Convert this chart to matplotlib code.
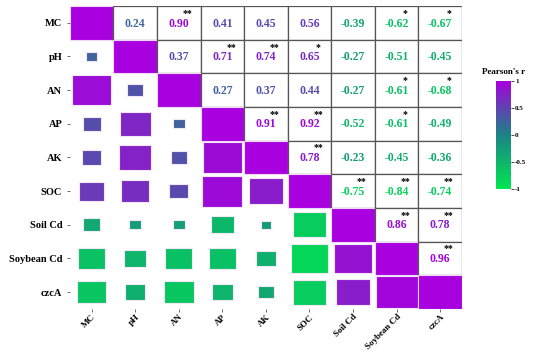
import numpy as np
import matplotlib.pyplot as plt
from matplotlib.colors import LinearSegmentedColormap, Normalize
from matplotlib.patches import Rectangle
from matplotlib.colorbar import ColorbarBase
from matplotlib.ticker import FuncFormatter

labels = ['MC', 'pH', 'AN', 'AP', 'AK', 'SOC', 'Soil Cd', 'Soybean Cd', 'czcA']

# upper triangle values, row by row
r_MC = [0.24, 0.90, 0.41, 0.45, 0.56, -0.39, -0.62, -0.67]
r_pH = [0.37, 0.71, 0.74, 0.65, -0.27, -0.51, -0.45]
r_AN = [0.27, 0.37, 0.44, -0.27, -0.61, -0.68]
r_AP = [0.91, 0.92, -0.52, -0.61, -0.49]
r_AK = [0.78, -0.23, -0.45, -0.36]
r_SOC = [-0.75, -0.84, -0.74]
r_SoilCd = [0.86, 0.78]
r_SoyCd = [0.96]

s_MC = ['', '**', '', '', '', '', '*', '*']
s_pH = ['', '**', '**', '*', '', '', '']
s_AN = ['', '', '', '', '*', '*']
s_AP = ['**', '**', '', '*', '']
s_AK = ['**', '', '', '']
s_SOC = ['**', '**', '**']
s_SoilCd = ['**', '**']
s_SoyCd = ['**']

rows = [r_MC, r_pH, r_AN, r_AP, r_AK, r_SOC, r_SoilCd, r_SoyCd]
stars = [s_MC, s_pH, s_AN, s_AP, s_AK, s_SOC, s_SoilCd, s_SoyCd]

n = len(labels)
R = np.eye(n)
S = [['' for _ in range(n)] for _ in range(n)]
for i, (vals, st) in enumerate(zip(rows, stars)):
    for k, (v, s) in enumerate(zip(vals, st)):
        j = i + 1 + k
        R[i, j] = R[j, i] = v
        S[i][j] = s

cmap = LinearSegmentedColormap.from_list('pr', ['#00E650', '#1B8386', '#A800DE'])
norm = Normalize(-1, 1)
font = 'Liberation Serif'

fig = plt.figure(figsize=(5.5, 3.53), dpi=100)
ax = fig.add_axes([0.127, 0.125, 0.713, 0.858])

for i in range(n):
    for j in range(n):
        r = R[i, j]
        c = cmap(norm(r))
        if i == j:
            ax.add_patch(Rectangle((j - 0.5, i - 0.5), 1, 1, facecolor=c,
                                   edgecolor='#f0d8f8', lw=0.8))
        elif i > j:
            a = abs(r)
            ax.add_patch(Rectangle((j - a / 2, i - a / 2), a, a, facecolor=c,
                                   edgecolor='#f4e8f8', lw=0.8))
        else:
            ax.add_patch(Rectangle((j - 0.5, i - 0.5), 1, 1, facecolor='white',
                                   edgecolor='#555555', lw=0.9))
            ax.text(j, i + 0.02, f'{r:.2f}', color=c, ha='center', va='center',
                    fontsize=8.5, fontweight='bold', family=font)
            if S[i][j]:
                ax.text(j + 0.2, i - 0.28, S[i][j], color='black', ha='center',
                        va='center', fontsize=7, fontweight='bold', family=font)

ax.set_xlim(-0.5, n - 0.5)
ax.set_ylim(n - 0.5, -0.5)
ax.set_xticks(range(n))
ax.set_yticks(range(n))
ax.set_xticklabels(labels, rotation=45, ha='right', rotation_mode='anchor',
                   fontsize=6.5, fontweight='bold', family=font)
ax.set_yticklabels(labels, fontsize=7.5, fontweight='bold', family=font)
ax.tick_params(length=2, width=0.6, color='#555555')
ax.tick_params(axis='x', pad=1)
for sp in ax.spines.values():
    sp.set_visible(False)

cax = fig.add_axes([0.902, 0.465, 0.027, 0.306])
cb = ColorbarBase(cax, cmap=cmap, norm=norm, ticks=[-1, -0.5, 0, 0.5, 1],
                  format=FuncFormatter(lambda v, p: f'{v:g}'))
cb.outline.set_visible(False)
cb.ax.tick_params(labelsize=5, length=2, width=0.5, pad=1)
for t in cb.ax.get_yticklabels():
    t.set_fontfamily(font)
    t.set_fontweight('bold')
cb.ax.set_title("Pearson's r", fontsize=6.5, fontweight='bold', family=font, pad=5)

fig.savefig('out.png', dpi=100)
